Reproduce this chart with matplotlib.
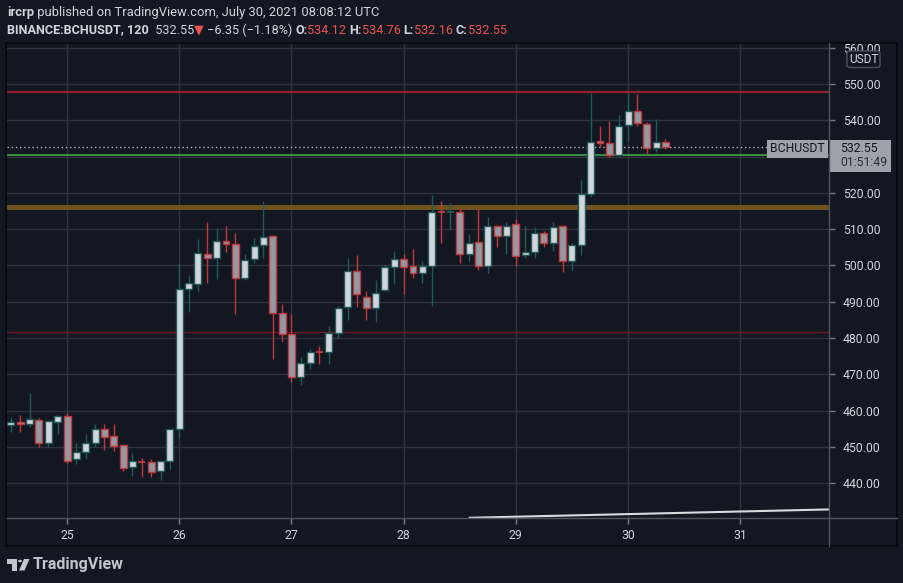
import matplotlib
matplotlib.use("Agg")
import matplotlib.pyplot as plt
from matplotlib.patches import Rectangle, FancyBboxPatch, Polygon, Circle
from matplotlib.lines import Line2D

plt.rcParams['font.family'] = ['Roboto', 'DejaVu Sans']

# --- data (2h candles, BINANCE:BCHUSDT, July 24 12:00 .. July 30 08:00) ---
start_day = 24.5
opens = [456.0, 456.9, 456.25, 457.4, 451.0, 457.0, 458.5, 446.6, 448.5, 451.0,
         454.9, 453.0, 450.5, 444.4, 445.85, 445.8, 443.3, 446.1, 454.9, 493.4,
         494.9, 503.1, 502.0, 506.7, 505.8, 496.5, 501.7, 505.6, 508.1, 486.8,
         481.0, 469.2, 473.1, 476.2, 476.1, 481.3, 488.5, 498.6, 491.4, 488.2,
         493.3, 499.5, 501.7, 499.8, 497.9, 499.9, 514.8, 514.6, 514.8, 503.1,
         506.6, 499.9, 511.0, 508.0, 511.35, 502.8, 503.8, 508.9, 506.1, 510.9,
         501.3, 505.6, 519.6, 534.2, 533.7, 530.4, 538.7, 542.6, 538.9, 532.4,
         534.12]
highs = [458.2, 458.8, 465.0, 457.9, 457.4, 458.8, 459.45, 451.0, 453.6, 456.3,
         456.3, 456.3, 450.6, 448.3, 446.9, 446.6, 446.2, 455.0, 500.6, 497.4,
         507.3, 512.0, 510.3, 510.9, 509.0, 503.2, 507.5, 517.8, 508.4, 489.4,
         486.6, 474.9, 476.9, 477.7, 483.3, 488.8, 502.0, 502.9, 493.0, 496.0,
         500.0, 504.0, 503.2, 504.5, 501.2, 519.4, 517.8, 517.1, 515.8, 508.7,
         515.6, 513.3, 511.2, 512.0, 512.8, 510.9, 510.5, 509.5, 511.9, 511.2,
         506.1, 523.6, 547.6, 538.4, 539.8, 541.5, 547.6, 547.2, 539.6, 540.3,
         534.76]
lows = [454.2, 454.2, 455.6, 450.0, 450.0, 453.6, 445.7, 445.3, 446.7, 450.1,
        449.2, 449.0, 443.5, 442.0, 441.85, 441.7, 440.9, 444.0, 452.4, 487.3,
        492.8, 495.3, 496.3, 503.8, 486.7, 496.0, 500.8, 502.2, 474.2, 479.3,
        468.0, 467.1, 471.4, 472.9, 472.9, 480.0, 485.0, 488.7, 485.0, 484.5,
        493.0, 494.9, 492.1, 496.6, 495.3, 488.8, 506.3, 510.1, 500.8, 501.3,
        498.8, 498.0, 505.2, 503.2, 499.9, 502.2, 502.2, 505.2, 504.1, 498.3,
        498.8, 502.9, 519.0, 532.7, 530.0, 530.2, 534.3, 538.4, 530.7, 531.35,
        532.16]
closes = [456.8, 456.25, 457.6, 451.2, 457.2, 458.5, 446.2, 448.5, 451.0, 454.9,
          452.8, 450.3, 444.3, 446.1, 445.75, 443.2, 446.1, 454.9, 493.4, 495.1,
          503.4, 502.0, 506.8, 505.8, 496.5, 501.6, 505.5, 507.9, 486.8, 481.0,
          469.4, 473.1, 476.1, 476.0, 481.3, 488.2, 498.6, 492.1, 488.2, 492.5,
          499.7, 501.7, 499.7, 497.9, 499.9, 514.8, 514.6, 514.8, 503.1, 506.3,
          499.9, 511.0, 508.0, 511.0, 502.7, 503.8, 508.9, 506.1, 510.7, 501.3,
          505.6, 519.7, 534.1, 533.7, 530.4, 538.5, 542.6, 539.2, 532.3, 533.9,
          532.55]

day_ticks = [25, 26, 27, 28, 29, 30, 31]
price_ticks = [440, 450, 460, 470, 480, 490, 500, 510, 520, 530, 540, 550, 560]

# drawn levels
resistance_top = 547.9
support_low = 481.7
green_level = 530.5
orange_level = 516.1
last_price = 532.55
trend_x = [28.59, 31.79]
trend_y = [430.5, 432.8]

BG = '#131722'
TXT = '#d1d4dc'
GRID = '#30343f'
UP_BODY = '#d1d4dc'
UP_EDGE = '#1f5b57'
DN_BODY = '#9598a1'
DN_EDGE = '#c2393d'
RED_TXT = '#ef5350'

W, H = 904, 583
fig = plt.figure(figsize=(W / 100, H / 100), dpi=100, facecolor=BG)


def fx(x):
    return x / W


def fy(y):
    return 1 - y / H


x_left, x_right = 24.465, 31.791
ax = fig.add_axes([fx(7), fy(518), fx(829) - fx(7), fy(43) - fy(518)])
ax.set_facecolor(BG)
ax.set_xlim(x_left, x_right)
ax.set_ylim(430.44, 561.29)

# grid
for d in day_ticks:
    ax.axvline(d, color=GRID, lw=1, zorder=0)
for p in price_ticks:
    ax.axhline(p, color=GRID, lw=1, zorder=0)

# levels
ax.axhline(resistance_top, color='#93202b', lw=1.6, zorder=1)
ax.axhline(support_low, color='#6a1c22', lw=1.0, zorder=1)
ax.axhline(green_level, color='#3fa548', lw=1.2, zorder=1)
ax.axhline(orange_level, color='#6e521f', lw=3.6, zorder=1)
ax.plot(trend_x, trend_y, color='#d8dae0', lw=1.5, zorder=2)

# candles
bw = 0.062
for i in range(len(opens)):
    t = start_day + i / 12
    o, hi, lo, c = opens[i], highs[i], lows[i], closes[i]
    up = c >= o
    edge = UP_EDGE if up else DN_EDGE
    body = UP_BODY if up else DN_BODY
    ax.vlines(t, lo, hi, color=edge, lw=1, zorder=3)
    if abs(c - o) < 0.3:
        # doji: just a cross
        ax.hlines((o + c) / 2, t - bw / 2, t + bw / 2, color=edge, lw=1.4, zorder=4)
    else:
        ax.add_patch(Rectangle((t - bw / 2, min(o, c)), bw, abs(c - o), facecolor=body,
                               edgecolor=edge, lw=1, zorder=4))

# dotted last-price line up to the label
ax.plot([x_left, x_left + (767 - 7) / 112.2], [last_price, last_price],
        color='#b2b5be', lw=1, ls=(0, (1, 2)), zorder=2)

# axes styling
for s in ax.spines.values():
    s.set_visible(False)
ax.yaxis.tick_right()
ax.set_yticks(price_ticks)
# 530.00 sits under the last-price badge
ax.set_yticklabels(["" if p == 530 else f"{p:.2f}" for p in price_ticks])
ax.set_xticks(day_ticks)
ax.set_xticklabels([str(d) for d in day_ticks])
ax.tick_params(axis='both', colors='#787b86', labelcolor=TXT, labelsize=8.8,
               length=4, width=1)
ax.tick_params(axis='y', pad=6)
ax.tick_params(axis='x', pad=4)

# axis lines and outer frame
fig.add_artist(Line2D([fx(7), fx(897)], [fy(518), fy(518)], color='#50535e', lw=1))
fig.add_artist(Line2D([fx(829), fx(829)], [fy(43), fy(546)], color='#50535e', lw=1))
fig.add_artist(Rectangle((fx(6.5), fy(546)), fx(897) - fx(6.5), fy(43) - fy(546),
                         fill=False, edgecolor='#05070b', lw=1.2))

# USDT badge
fig.add_artist(FancyBboxPatch((fx(847), fy(67.5)), fx(880) - fx(847), fy(51) - fy(67.5),
                              boxstyle="round,pad=0,rounding_size=0.004",
                              facecolor=BG, edgecolor='#50535e', lw=1))
fig.text(fx(863.5), fy(59.5), "USDT", color=TXT, fontsize=8.6, ha='center', va='center')

# last price labels
fig.add_artist(Rectangle((fx(767), fy(157.5)), fx(828) - fx(767), fy(140) - fy(157.5),
                         facecolor='#9fa2ab', edgecolor='none'))
fig.text(fx(797.5), fy(149), "BCHUSDT", color=BG, fontsize=8.8, ha='center', va='center')
fig.add_artist(Rectangle((fx(829), fy(171.5)), fx(891.5) - fx(829), fy(140) - fy(171.5),
                         facecolor='#9fa2ab', edgecolor='none'))
fig.text(fx(840), fy(148.5), f"{last_price:.2f}", color=BG, fontsize=8.8, va='center')
fig.text(fx(840), fy(163), "01:51:49", color='#2a2e39', fontsize=8.8, va='center')

# header
renderer = fig.canvas.get_renderer()


def run_text(y, pieces, size):
    x = 7
    for s, col, wt in pieces:
        t = fig.text(fx(x), fy(y), s, color=col, fontsize=size, fontweight=wt,
                     va='center', ha='left')
        x += t.get_window_extent(renderer).width


run_text(12.5, [("ircrp", TXT, 'bold'),
                (" published on TradingView.com, July 30, 2021 08:08:12 UTC", TXT, 'normal')],
         9.35)
run_text(30, [("BINANCE:BCHUSDT, 120", TXT, 'bold'),
              ("  532.55", TXT, 'normal'),
              ("\u25BC", RED_TXT, 'normal'),
              (" \u22126.35 (\u22121.18%) ", TXT, 'normal'),
              ("O:", TXT, 'bold'), ("534.12 ", RED_TXT, 'normal'),
              ("H:", TXT, 'bold'), ("534.76 ", RED_TXT, 'normal'),
              ("L:", TXT, 'bold'), ("532.16 ", RED_TXT, 'normal'),
              ("C:", TXT, 'bold'), ("532.55", RED_TXT, 'normal')],
         9.1)

# TradingView logo
LOGO = '#c3c6ce'
fig.add_artist(Polygon([(fx(7), fy(559)), (fx(17), fy(559)), (fx(17), fy(570.5)),
                        (fx(12), fy(570.5)), (fx(12), fy(563.5)), (fx(7), fy(563.5))],
                       closed=True, facecolor=LOGO, edgecolor='none'))
fig.add_artist(Circle((fx(20), fy(561)), 1.9 / W, facecolor=LOGO, edgecolor='none',
                      transform=fig.transFigure))
fig.add_artist(Polygon([(fx(24), fy(559)), (fx(29.5), fy(559)), (fx(24.5), fy(570.5)),
                        (fx(19), fy(570.5))],
                       closed=True, facecolor=LOGO, edgecolor='none'))
fig.text(fx(33), fy(565), "TradingView", color=LOGO, fontsize=11.5, fontweight='bold',
         va='center', ha='left')

fig.savefig("out.png", dpi=100, facecolor=BG)
